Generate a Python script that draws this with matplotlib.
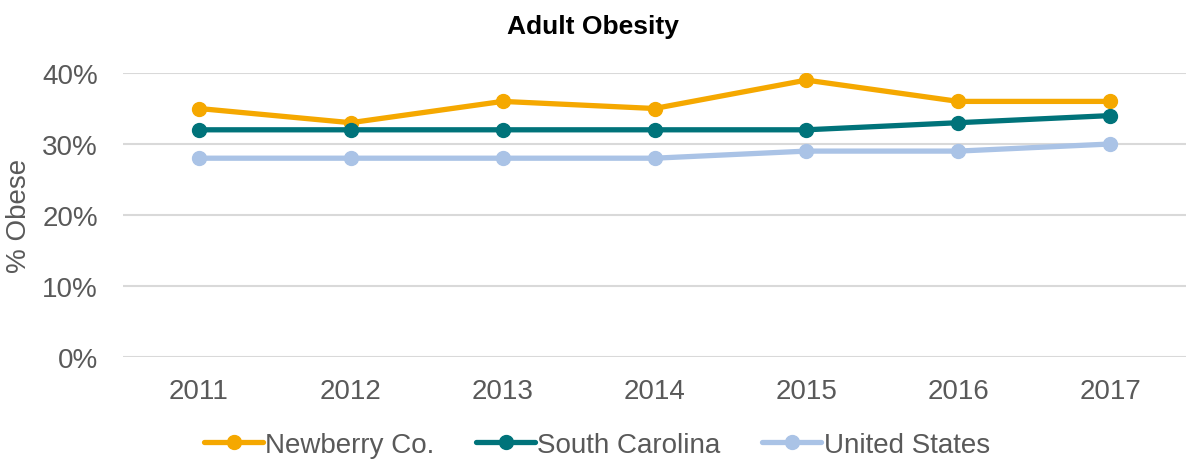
import matplotlib
matplotlib.use("Agg")
import matplotlib.pyplot as plt
from matplotlib.ticker import FuncFormatter

plt.rcParams['font.family'] = ['Liberation Sans', 'DejaVu Sans']

years = ["2011", "2012", "2013", "2014", "2015", "2016", "2017"]
newberry = [0.35, 0.33, 0.36, 0.35, 0.39, 0.36, 0.36]
south_carolina = [0.32, 0.32, 0.32, 0.32, 0.32, 0.33, 0.34]
united_states = [0.28, 0.28, 0.28, 0.28, 0.29, 0.29, 0.30]
series_names = ["Newberry Co.", "South Carolina", "United States"]
colors = ["#F5A800", "#00737A", "#AAC3E6"]

fig = plt.figure(figsize=(11.86, 4.60), dpi=100)
ax = fig.add_axes([123/1186, 102/460, 1 - 123/1186, (358-74)/460])

x = list(range(len(years)))
for vals, name, c in zip([newberry, south_carolina, united_states], series_names, colors):
    ax.plot(x, vals, color=c, lw=3.8, marker='o', markersize=10, label=name,
            solid_capstyle='round', zorder=3)

ax.set_xlim(-0.5, len(years) - 0.5)
ax.set_ylim(0, 0.40)
ax.set_yticks([0, 0.1, 0.2, 0.3, 0.4])
ax.yaxis.set_major_formatter(FuncFormatter(lambda v, p: f"{v*100:.0f}%"))
ax.set_xticks(x)
ax.set_xticklabels(years)
ax.grid(axis='y', color='#D9D9D9', lw=1.5)
ax.set_axisbelow(True)
for s in ax.spines.values():
    s.set_visible(False)
ax.tick_params(axis='both', length=0, labelsize=20, labelcolor='#595959')
ax.tick_params(axis='y', pad=18)
ax.tick_params(axis='x', pad=15)

fig.text(19/1186, 1 - 216/460, "% Obese", rotation=90, ha='center', va='center',
         fontsize=20, color='#595959')

fig.text(0.5, 1 - 27/460, "Adult Obesity", ha='center', va='center',
         fontsize=19, fontweight='bold', color='black')

leg = fig.legend(loc='center', bbox_to_anchor=(597/1186, 1 - 446/460), ncol=3,
                 frameon=False, fontsize=20, handlelength=2.1, columnspacing=1.5,
                 handletextpad=0.1, borderaxespad=0)
for t in leg.get_texts():
    t.set_color('#595959')

fig.savefig("out.png", dpi=100)
